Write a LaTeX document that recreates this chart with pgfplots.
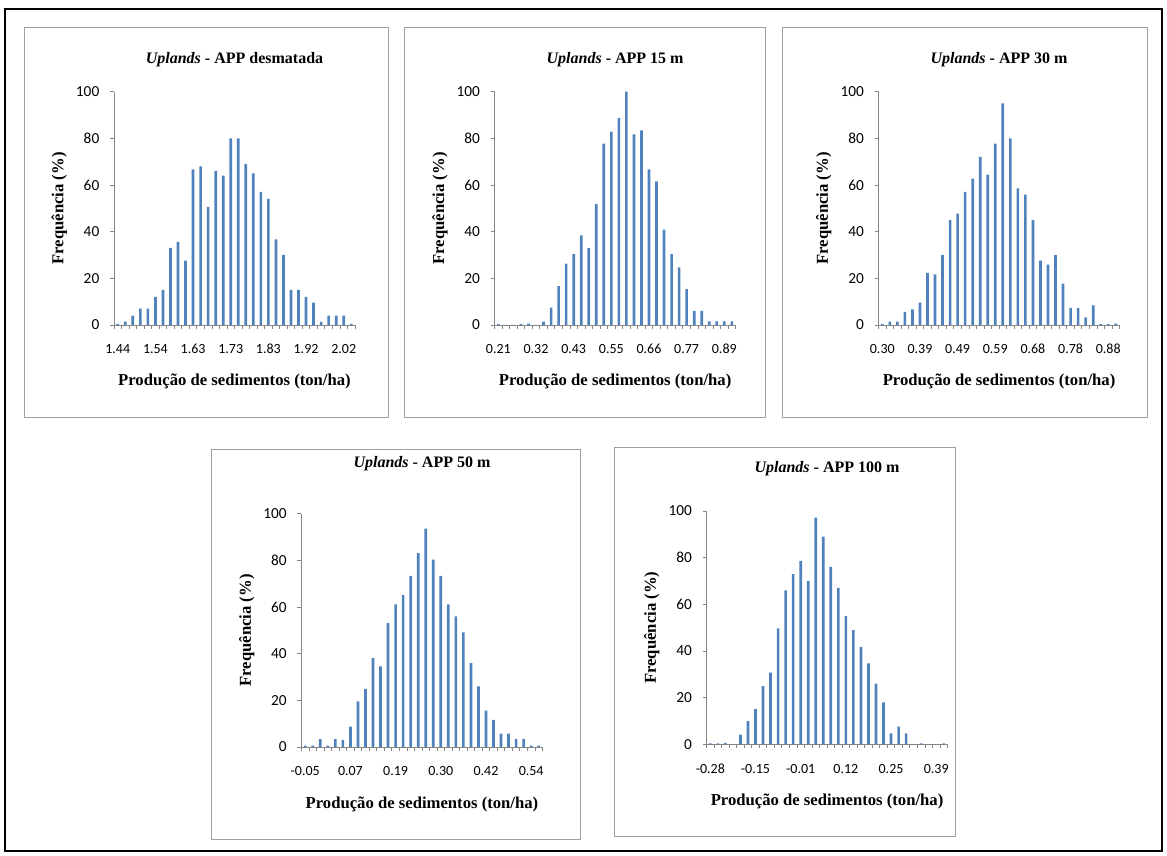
\documentclass[border=0pt]{standalone}
\usepackage{fontspec}
\setmainfont{Liberation Serif}
\newfontfamily\calibri{Carlito}
\usepackage{pgfplots}
\pgfplotsset{compat=1.18}
\definecolor{barblue}{HTML}{4F81BD}
\definecolor{axgray}{HTML}{868686}
\definecolor{boxgray}{HTML}{A0A0A0}

\pgfplotsset{
  hist/.style={
    scale only axis, width=180.75pt, height=175pt,
    anchor=south west,
    ybar, bar width=2pt,
    xmin=-0.5, xmax=31.5, ymin=0, ymax=100,
    axis x line*=bottom, axis y line*=left,
    axis line style={axgray, line width=0.6pt},
    tick align=outside,
    major tick length=3pt,
    every tick/.style={axgray, line width=0.6pt},
    ytick={0,20,...,100},
    xtick={-0.5,0.5,...,31.5},
    xticklabels={},
    extra x tick style={major tick length=0pt, xticklabel style={anchor=base, yshift=-21.75pt}},
    ticklabel style={text=black},
    xticklabel style={font=\calibri\fontsize{10.5}{12}\selectfont},
    yticklabel style={font=\calibri\fontsize{11.5}{13}\selectfont, xshift=-4.5pt},
    /pgf/number format/assume math mode=true,
    every axis title/.style={font=\bfseries\fontsize{12}{14}\selectfont, at={(0.5,1)}, anchor=base, yshift=21.3pt},
    every axis x label/.style={at={(axis description cs:0.5,0)}, anchor=base, yshift=-45.75pt, font=\bfseries\fontsize{12.5}{14}\selectfont},
    every axis y label/.style={at={(axis description cs:0,0.5)}, xshift=-41pt, rotate=90, anchor=center, font=\bfseries\fontsize{12.5}{14}\selectfont},
    xlabel={Produção de sedimentos (ton/ha)},
    ylabel={Frequência (\%)},
  },
  barst/.style={fill=barblue, draw=none},
}

\begin{document}
\begin{tikzpicture}
\useasboundingbox (0,0) rectangle (875.25pt,642pt);
\draw[black, line width=1.5pt] (3.75pt,3.75pt) rectangle (871.5pt,635.25pt);
\draw[boxgray, line width=0.75pt] (18pt,328.5pt) rectangle (291pt,621pt);
\draw[boxgray, line width=0.75pt] (303pt,328.5pt) rectangle (573.75pt,621pt);
\draw[boxgray, line width=0.75pt] (586.5pt,328.5pt) rectangle (860.25pt,621pt);
\draw[boxgray, line width=0.75pt] (158.25pt,12pt) rectangle (435pt,304.5pt);
\draw[boxgray, line width=0.75pt] (460.5pt,14.25pt) rectangle (716.25pt,306pt);

% Panel 1
\begin{axis}[hist, at={(85.5pt,398.25pt)},
  title={\textit{Uplands} - APP desmatada},
  extra x ticks={0,5,...,30},
  extra x tick labels={1.44,1.54,1.63,1.73,1.83,1.92,2.02}]
\addplot[barst] table[x expr=\coordindex, y=y, row sep=\\] {
y\\ 0.5\\ 1.4\\ 4\\ 7\\ 7\\ 12\\ 15\\ 33\\ 35.6\\ 27.6\\ 66.7\\ 68\\ 50.6\\ 66\\ 64\\ 80\\
80\\ 69\\ 65\\ 57\\ 54\\ 36.7\\ 30\\ 15\\ 15\\ 12\\ 9.6\\ 1.4\\ 4\\ 4\\ 4\\ 0.5\\
};
\end{axis}

% Panel 2
\begin{axis}[hist, at={(370.95pt,398.25pt)},
  title={\textit{Uplands} - APP 15 m},
  extra x ticks={0,5,...,30},
  extra x tick labels={0.21,0.32,0.43,0.55,0.66,0.77,0.89}]
\addplot[barst] table[x expr=\coordindex, y=y, row sep=\\] {
y\\ 0.4\\ 0\\ 0\\ 0.4\\ 0.6\\ 0\\ 1.4\\ 7.4\\ 16.7\\ 26.3\\ 30.4\\ 38.4\\ 32.9\\ 51.9\\ 77.7\\ 82.9\\
88.7\\ 100\\ 81.7\\ 83.4\\ 66.7\\ 61.6\\ 40.9\\ 30.4\\ 24.7\\ 15.4\\ 6.1\\ 6.1\\ 1.6\\ 1.6\\ 1.6\\ 1.6\\
};
\end{axis}

% Panel 3
\begin{axis}[hist, at={(658.9pt,398.25pt)},
  title={\textit{Uplands} - APP 30 m},
  extra x ticks={0,5,...,30},
  extra x tick labels={0.30,0.39,0.49,0.59,0.68,0.78,0.88}]
\addplot[barst] table[x expr=\coordindex, y=y, row sep=\\] {
y\\ 0.4\\ 1.4\\ 1.4\\ 5.6\\ 6.7\\ 9.6\\ 22.3\\ 21.7\\ 29.9\\ 44.9\\ 47.7\\ 57\\ 62.7\\ 72\\ 64.4\\ 77.7\\
95\\ 80\\ 58.6\\ 55.9\\ 44.9\\ 27.6\\ 25.9\\ 29.9\\ 17.7\\ 7.3\\ 7.3\\ 3.3\\ 8.4\\ 0.4\\ 0.4\\ 0.6\\
};
\end{axis}

% Panel 4
\begin{axis}[hist, at={(226.1pt,81.75pt)},
  title={\textit{Uplands} - APP 50 m},
  title style={yshift=13pt},
  extra x ticks={0,6,...,30},
  extra x tick labels={-0.05,0.07,0.19,0.30,0.42,0.54}]
\addplot[barst] table[x expr=\coordindex, y=y, row sep=\\] {
y\\ 0.6\\ 0.6\\ 3.4\\ 0.6\\ 3.4\\ 2.9\\ 8.7\\ 19.6\\ 24.9\\ 38.1\\ 34.6\\ 53.1\\ 61.1\\ 65.1\\ 73.3\\ 83.1\\
93.6\\ 80.3\\ 73.3\\ 61.1\\ 56\\ 49.1\\ 35.9\\ 26\\ 15.6\\ 11.6\\ 5.7\\ 5.7\\ 3.4\\ 3.4\\ 0.6\\ 0.6\\
};
\end{axis}

% Panel 5
\begin{axis}[hist, at={(529.9pt,83.8pt)},
  title={\textit{Uplands} - APP 100 m},
  title style={yshift=7.7pt},
  extra x ticks={0,6,...,30},
  extra x tick labels={-0.28,-0.15,-0.01,0.12,0.25,0.39}]
\addplot[barst] table[x expr=\coordindex, y=y, row sep=\\] {
y\\ 0.4\\ 0.4\\ 0.6\\ 0\\ 4.1\\ 9.9\\ 15.1\\ 24.9\\ 30.7\\ 49.7\\ 65.9\\ 72.9\\ 78.6\\ 69.9\\ 97.1\\ 89\\
76\\ 67\\ 54.9\\ 48.9\\ 41.6\\ 34.7\\ 26\\ 18\\ 4.7\\ 7.6\\ 4.7\\ 0\\ 0.4\\ 0\\ 0\\ 0.4\\
};
\end{axis}
\end{tikzpicture}
\end{document}
